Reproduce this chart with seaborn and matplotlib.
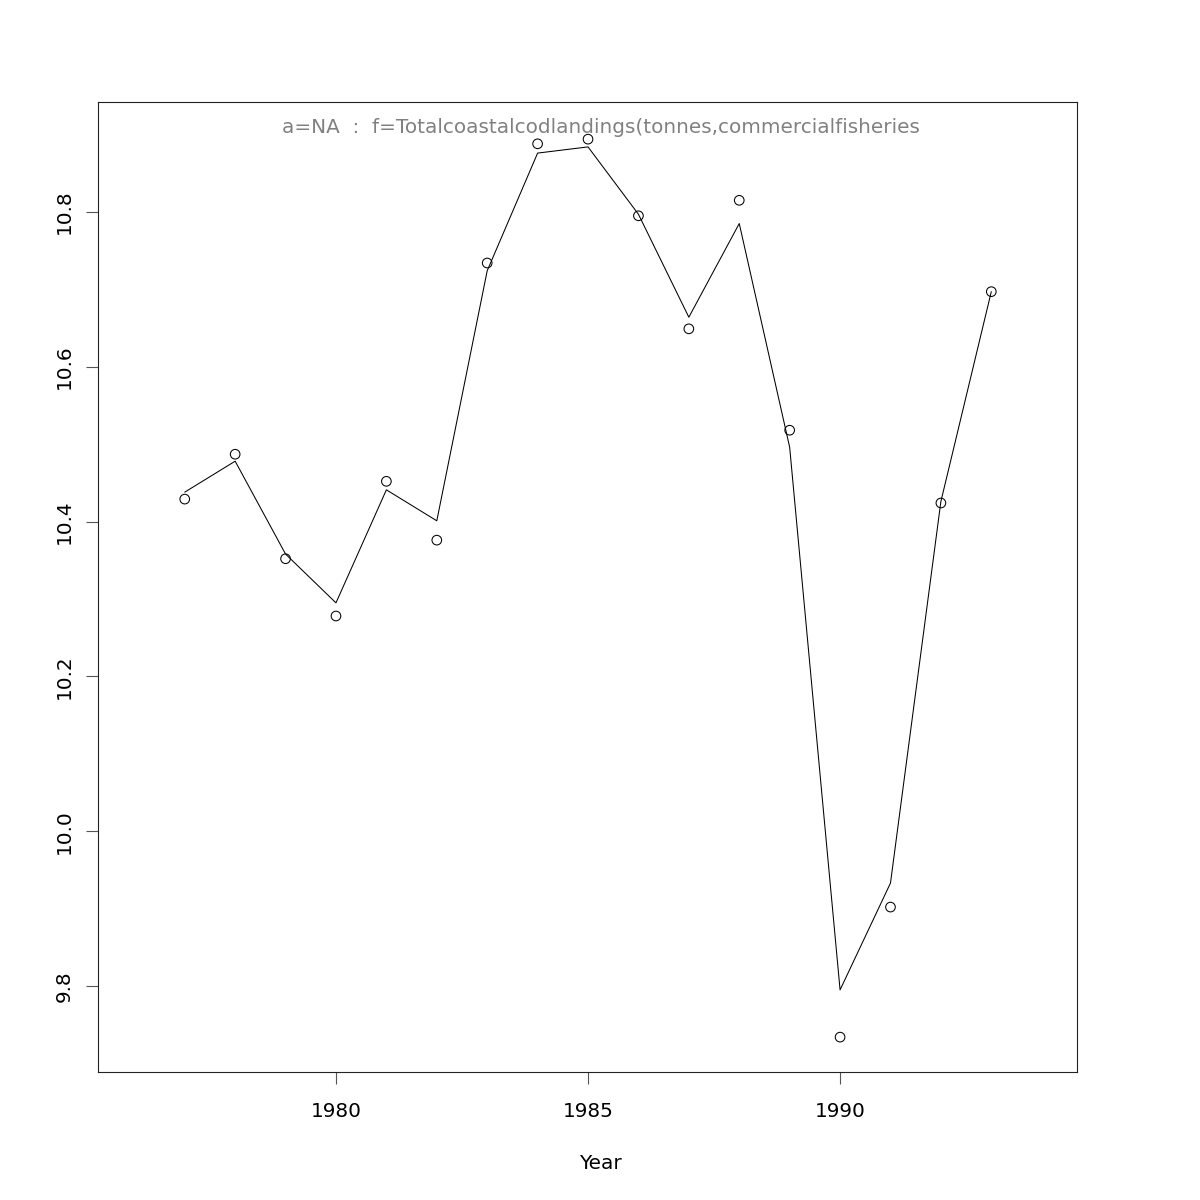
import seaborn as sns
import matplotlib.pyplot as plt
import pandas as pd

# years and values
years = list(range(1977, 1994))
observed = [10.429, 10.487, 10.352, 10.278, 10.452, 10.376, 10.734, 10.888, 10.894,
            10.795, 10.649, 10.815, 10.518, 9.734, 9.902, 10.424, 10.697]
fitted = [10.438, 10.478, 10.358, 10.295, 10.441, 10.401, 10.724, 10.876, 10.884,
          10.797, 10.664, 10.785, 10.496, 9.795, 9.933, 10.426, 10.697]
x_ticks = [1980, 1985, 1990]
y_ticks = [9.8, 10.0, 10.2, 10.4, 10.6, 10.8]
title_text = "a=NA  :  f=Totalcoastalcodlandings(tonnes,commercialfisheries"

df = pd.DataFrame({"Year": years, "obs": observed, "fit": fitted})

sns.set_style("white")
plt.rcParams['font.family'] = ['DejaVu Sans']

fig = plt.figure(figsize=(12, 12), dpi=100)
ax = fig.add_axes([0.0817, 0.1067, 0.8158, 0.8083])

sns.lineplot(x="Year", y="fit", data=df, ax=ax, color="black", linewidth=0.75)
sns.scatterplot(x="Year", y="obs", data=df, ax=ax, marker="o", s=48,
                facecolors="none", edgecolor="black", linewidth=0.75)

ax.set_xlim(1975.28, 1994.70)
ax.set_ylim(9.689, 10.942)
ax.set_xticks(x_ticks)
ax.set_xticklabels([str(t) for t in x_ticks])
ax.set_yticks(y_ticks)
ax.set_yticklabels([f"{t:.1f}" for t in y_ticks], rotation=90, va="center")

ax.tick_params(axis="both", direction="out", length=8.6, width=0.8,
               color="#555555", labelsize=14.4, labelcolor="black",
               left=True, bottom=True)
ax.tick_params(axis="x", pad=13)
ax.tick_params(axis="y", pad=9)

for s in ax.spines.values():
    s.set_color("#222222")
    s.set_linewidth(0.8)

ax.set_xlabel("Year", fontsize=14.4, color="black", labelpad=24, x=0.513)
ax.set_ylabel("")

ax.text(0.514, 0.974, title_text, transform=ax.transAxes, ha="center",
        va="center", fontsize=14.4, color="#808080")

fig.savefig("out.png", dpi=100)
